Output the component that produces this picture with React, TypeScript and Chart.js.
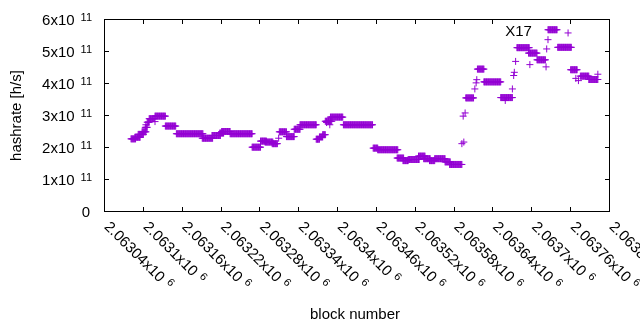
import React, { useEffect, useRef } from "react";
import { Chart, registerables } from "chart.js";

Chart.register(...registerables);

// Runs of blocks sharing the same estimated hashrate (value in units of 1e11 h/s)
const runStart = [
  2063081, 2063087, 2063092, 2063098, 2063103, 2063104, 2063106, 2063109, 2063118, 2063118,
  2063134, 2063151, 2063191, 2063206, 2063218, 2063221, 2063234, 2063268, 2063281, 2063288,
  2063299, 2063309, 2063310, 2063321, 2063333, 2063342, 2063367, 2063372, 2063377, 2063383,
  2063381, 2063388, 2063389, 2063409, 2063455, 2063462, 2063492, 2063501, 2063509, 2063525,
  2063533, 2063542, 2063550, 2063566, 2063573, 2063592, 2063595, 2063594, 2063597, 2063598,
  2063612, 2063614, 2063615, 2063616, 2063626, 2063652, 2063659, 2063670, 2063672, 2063673,
  2063675, 2063677, 2063697, 2063695, 2063708, 2063722, 2063723, 2063725, 2063725, 2063740,
  2063756, 2063760, 2063768, 2063772, 2063775, 2063788, 2063802,
];
const runEnd = [
  2063088, 2063095, 2063100, 2063104, 2063106, 2063104, 2063109, 2063117, 2063118, 2063134,
  2063150, 2063192, 2063207, 2063219, 2063224, 2063234, 2063268, 2063281, 2063290, 2063300,
  2063307, 2063309, 2063321, 2063333, 2063342, 2063367, 2063372, 2063377, 2063381, 2063383,
  2063391, 2063388, 2063408, 2063454, 2063462, 2063493, 2063502, 2063509, 2063526, 2063535,
  2063543, 2063550, 2063566, 2063574, 2063592, 2063592, 2063595, 2063594, 2063597, 2063610,
  2063612, 2063614, 2063615, 2063626, 2063652, 2063670, 2063659, 2063670, 2063672, 2063673,
  2063675, 2063696, 2063697, 2063708, 2063721, 2063722, 2063723, 2063725, 2063739, 2063761,
  2063756, 2063770, 2063768, 2063772, 2063788, 2063802, 2063802,
];
const runValue = [
  2.27, 2.32, 2.41, 2.49, 2.63, 2.71, 2.79, 2.90, 2.81, 2.98,
  2.67, 2.43, 2.29, 2.375, 2.45, 2.50, 2.43, 2.01, 2.20, 2.17,
  2.12, 2.29, 2.49, 2.34, 2.57, 2.71, 2.26, 2.33, 2.40, 2.78,
  2.82, 2.71, 2.95, 2.71, 1.98, 1.93, 1.67, 1.59, 1.625, 1.73,
  1.65, 1.59, 1.65, 1.55, 1.47, 2.12, 2.17, 2.98, 3.08, 3.55,
  3.83, 4.02, 4.12, 4.45, 4.05, 3.56, 3.47, 3.83, 4.25, 4.35,
  4.69, 5.12, 4.59, 4.95, 4.74, 4.52, 5.08, 5.37, 5.68, 5.13,
  5.58, 4.43, 4.16, 4.09, 4.23, 4.125, 4.29,
];
const valueUnit = 1e11;

const xMin = 2063040;
const xMax = 2063820;
const yMin = 0;
const yMax = 6e11;
const xTickValues = [
  2063040, 2063100, 2063160, 2063220, 2063280, 2063340, 2063400,
  2063460, 2063520, 2063580, 2063640, 2063700, 2063760, 2063820,
];
const xTickLabels = [
  "2.06304", "2.0631", "2.06316", "2.06322", "2.06328", "2.06334", "2.0634",
  "2.06346", "2.06352", "2.06358", "2.06364", "2.0637", "2.06376", "2.06382",
];
const xTickExponent = "6";

const yTickValues = [0, 1e11, 2e11, 3e11, 4e11, 5e11, 6e11];
const yTickLabels = ["0", "1x10", "2x10", "3x10", "4x10", "5x10", "6x10"];
const yTickExponents = ["", "11", "11", "11", "11", "11", "11"];

const xTitle = "block number";
const yTitle = "hashrate [h/s]";
const noteText = "X17";
const noteBlock = 2063659;
const noteValue = 5.62e11;

const POINT_COLOR = "#9400d3";
const FONT = "15px 'Liberation Sans', Arial, sans-serif";
const SUP_FONT = "11px 'Liberation Sans', Arial, sans-serif";

function drawFrame(ctx: CanvasRenderingContext2D, chart: any) {
  const a = chart.chartArea;
  const xs = chart.scales.x;
  const ys = chart.scales.y;
  const nx = xs.getPixelForValue(noteBlock);
  ctx.save();
  ctx.fillStyle = "#000000";
  const L = Math.floor(a.left);
  const R = Math.floor(a.right);
  const T = Math.floor(a.top);
  const B = Math.floor(a.bottom);
  ctx.fillRect(L, T, R - L + 1, 1);
  ctx.fillRect(L, B, R - L + 1, 1);
  ctx.fillRect(L, T, 1, B - T + 1);
  ctx.fillRect(R, T, 1, B - T + 1);
  const tl = 4;
  xTickValues.forEach((v) => {
    const px = Math.floor(xs.getPixelForValue(v));
    ctx.fillRect(px, B - tl, 1, tl);
    if (Math.abs(px - nx - 14) > 18) ctx.fillRect(px, T + 1, 1, tl);
  });
  yTickValues.forEach((v) => {
    const py = Math.floor(ys.getPixelForValue(v));
    ctx.fillRect(L + 1, py, tl, 1);
    ctx.fillRect(R - tl, py, tl, 1);
  });
  ctx.restore();
}

const labelPlugin = {
  id: "gnuplotLabels",
  afterDraw(chart: any) {
    const { ctx, chartArea: a, scales } = chart;
    const xs = scales.x;
    const ys = scales.y;
    ctx.save();
    ctx.fillStyle = "#000";

    ctx.textBaseline = "alphabetic";
    ctx.textAlign = "right";
    yTickValues.forEach((v, i) => {
      const py = ys.getPixelForValue(v);
      const exp = yTickExponents[i];
      if (!exp) {
        ctx.font = FONT;
        ctx.fillText(yTickLabels[i], 90, py + 5);
      } else {
        ctx.font = SUP_FONT;
        const supW = ctx.measureText(exp).width;
        ctx.fillText(exp, 92, py + 1.5);
        ctx.font = FONT;
        ctx.fillText(yTickLabels[i], 92 - supW - 6, py + 5);
      }
    });

    xTickValues.forEach((v, i) => {
      const px = xs.getPixelForValue(v);
      ctx.save();
      ctx.translate(px + 2, a.bottom + 13);
      ctx.rotate(Math.PI / 4);
      ctx.textAlign = "left";
      ctx.textBaseline = "middle";
      ctx.font = FONT;
      const main = xTickLabels[i] + "x10";
      ctx.fillText(main, 0, 0);
      const w = ctx.measureText(main).width;
      ctx.font = SUP_FONT;
      ctx.fillText(xTickExponent, w + 5, -4);
      ctx.restore();
    });

    ctx.font = FONT;
    ctx.textAlign = "center";
    ctx.textBaseline = "middle";
    ctx.save();
    ctx.translate(17, (a.top + a.bottom) / 2);
    ctx.rotate(-Math.PI / 2);
    ctx.fillText(yTitle, 0, 0);
    ctx.restore();
    ctx.fillText(xTitle, (a.left + a.right) / 2 - 2, 315);

    const nx = xs.getPixelForValue(noteBlock);
    const ny = ys.getPixelForValue(noteValue);
    ctx.textAlign = "left";
    ctx.fillText(noteText, nx, ny);
    ctx.restore();

    drawFrame(ctx, chart);
  },
};

export default function App() {
  const ref = useRef<HTMLCanvasElement | null>(null);
  const overlayRef = useRef<HTMLCanvasElement | null>(null);
  useEffect(() => {
    if (!ref.current) return;
    const points: { x: number; y: number }[] = [];
    runStart.forEach((s, i) => {
      for (let b = s; b <= runEnd[i]; b++) {
        points.push({ x: b, y: runValue[i] * valueUnit });
      }
    });
    const chart = new Chart(ref.current, {
      type: "scatter",
      data: {
        datasets: [
          {
            data: points,
            pointStyle: "cross",
            pointRadius: 3.5,
            pointBorderWidth: 1,
            borderColor: POINT_COLOR,
            backgroundColor: POINT_COLOR,
          },
        ],
      },
      options: {
        responsive: false,
        animation: false,
        events: [],
        layout: { padding: { left: 104.5, right: 30.5, top: 19.5, bottom: 118.5 } },
        plugins: { legend: { display: false }, tooltip: { enabled: false } },
        scales: {
          x: { type: "linear", min: xMin, max: xMax, display: false },
          y: { type: "linear", min: yMin, max: yMax, display: false },
        },
      },
      plugins: [labelPlugin],
    });
    const ov = overlayRef.current;
    if (ov) {
      const octx = ov.getContext("2d");
      if (octx) {
        octx.clearRect(0, 0, ov.width, ov.height);
        drawFrame(octx, chart);
      }
    }
    return () => chart.destroy();
  }, []);
  return (
    <div style={{ position: "absolute", left: 0, top: 0, width: 640, height: 330, background: "#fff" }}>
      <canvas ref={ref} width={640} height={330} style={{ display: "block", position: "absolute", left: 0, top: 0 }} />
      <canvas
        ref={overlayRef}
        width={640}
        height={330}
        style={{ display: "block", position: "absolute", left: 0, top: 0, pointerEvents: "none" }}
      />
    </div>
  );
}
